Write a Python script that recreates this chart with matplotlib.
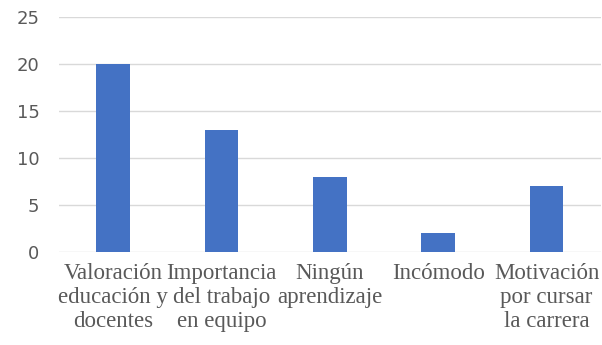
import matplotlib.pyplot as plt

categories = ["Valoración\neducación y\ndocentes", "Importancia\ndel trabajo\nen equipo",
              "Ningún\naprendizaje", "Incómodo", "Motivación\npor cursar\nla carrera"]
values = [20, 13, 8, 2, 7]
yticks = [0, 5, 10, 15, 20, 25]

fig = plt.figure(figsize=(6.02, 3.45), dpi=100)
ax = fig.add_axes([0.098, 0.27, 0.9, 0.681])

x = range(len(categories))
ax.bar(x, values, width=0.31, color="#4472C4", zorder=3)

ax.set_xlim(-0.5, len(categories) - 0.5)
ax.set_ylim(0, 25)
ax.set_yticks(yticks)
ax.yaxis.grid(True, color="#d9d9d9", linewidth=1, zorder=0)
ax.set_xticks(list(x))
ax.set_xticklabels(categories, family="Liberation Serif", fontsize=16.5,
                   color="#595959", linespacing=1.18)
for s in ax.spines.values():
    s.set_visible(False)
ax.tick_params(axis="both", length=0)
ax.tick_params(axis="y", labelsize=13, labelcolor="#595959", pad=14)
ax.tick_params(axis="x", pad=8)

fig.savefig("out.png", dpi=100)
